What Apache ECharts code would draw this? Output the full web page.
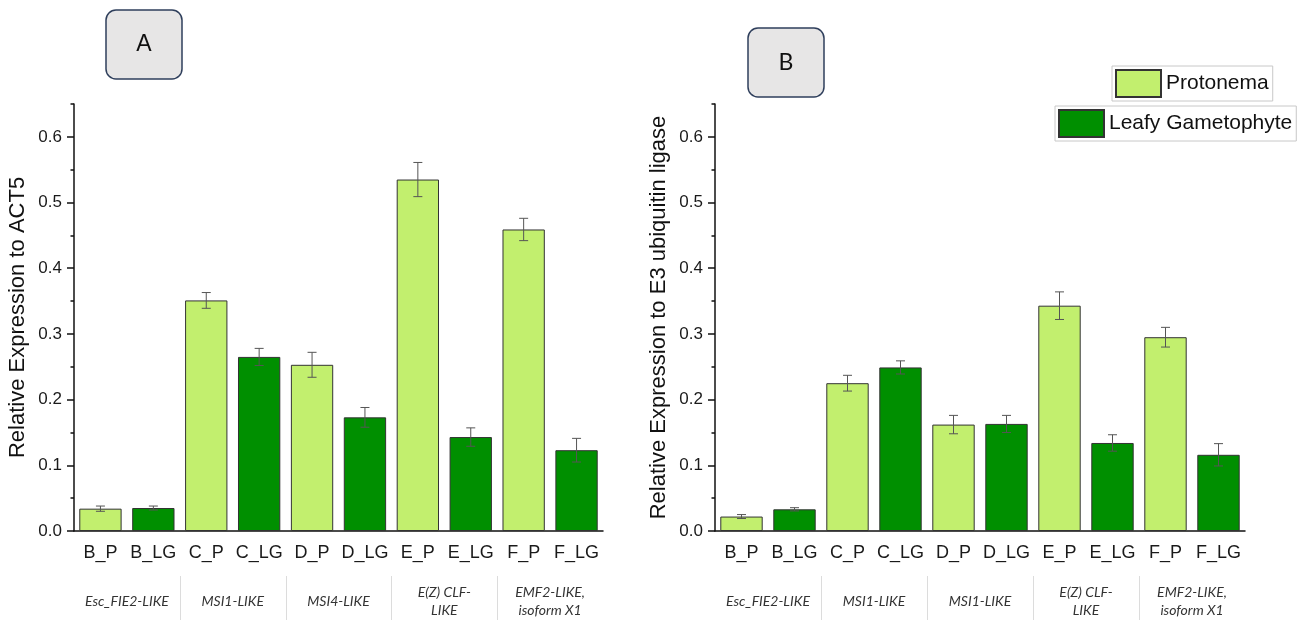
<!DOCTYPE html>
<html><head><meta charset="utf-8">
<script src="https://cdn.jsdelivr.net/npm/echarts@6/dist/echarts.min.js"></script>
<style>html,body{margin:0;padding:0;background:#fff}#c{width:1303px;height:624px}</style>
</head><body><div id="c"></div>
<script>
const categories = ['B_P','B_LG','C_P','C_LG','D_P','D_LG','E_P','E_LG','F_P','F_LG'];
const groupsA = ['Esc_FIE2-LIKE','MSI1-LIKE','MSI4-LIKE','E(Z) CLF-\nLIKE','EMF2-LIKE,\nisoform X1'];
const groupsB = ['Esc_FIE2-LIKE','MSI1-LIKE','MSI1-LIKE','E(Z) CLF-\nLIKE','EMF2-LIKE,\nisoform X1'];
const yTicks = [0, 0.1, 0.2, 0.3, 0.4, 0.5, 0.6];
const yMinorTicks = [0.05, 0.15, 0.25, 0.35, 0.45, 0.55, 0.65];
const yMax = 0.65;
const protonemaA = [0.034, 0.351, 0.253, 0.535, 0.459];
const protonemaErrA = [0.004, 0.012, 0.019, 0.026, 0.017];
const leafyA = [0.035, 0.265, 0.173, 0.143, 0.123];
const leafyErrA = [0.003, 0.013, 0.015, 0.014, 0.018];
const protonemaB = [0.022, 0.225, 0.162, 0.343, 0.295];
const protonemaErrB = [0.003, 0.012, 0.014, 0.021, 0.015];
const leafyB = [0.033, 0.249, 0.163, 0.134, 0.116];
const leafyErrB = [0.0025, 0.010, 0.013, 0.0125, 0.017];
const yNameA = 'Relative Expression to ACT5';
const yNameB = 'Relative Expression to E3 ubiquitin ligase';

const LIGHT = '#c2ef6e', DARK = '#008f00';
const FONT = "'Liberation Sans', Arial, sans-serif";

function spread(p, l) {
  const P = [], L = [];
  for (let i = 0; i < p.length; i++) { P.push(p[i], '-'); L.push('-', l[i]); }
  return [P, L];
}
function errData(p, pe, l, le) {
  const d = [];
  for (let i = 0; i < p.length; i++) {
    d.push([2 * i, p[i] - pe[i], p[i] + pe[i]]);
    d.push([2 * i + 1, l[i] - le[i], l[i] + le[i]]);
  }
  return d;
}
function renderErr(params, api) {
  const x = api.value(0);
  const t = api.coord([x, api.value(2)]);
  const b = api.coord([x, api.value(1)]);
  const hw = 4.5;
  const st = { stroke: '#555', lineWidth: 1 };
  return { type: 'group', children: [
    { type: 'line', shape: { x1: t[0], y1: t[1], x2: b[0], y2: b[1] }, style: st },
    { type: 'line', shape: { x1: t[0] - hw, y1: t[1], x2: t[0] + hw, y2: t[1] }, style: st },
    { type: 'line', shape: { x1: b[0] - hw, y1: b[1], x2: b[0] + hw, y2: b[1] }, style: st }
  ]};
}

function xAxesFor(g, groups) {
  return [
    { type: 'category', gridIndex: g, position: 'bottom', data: categories,
      axisLine: { onZero: false, lineStyle: { color: '#111', width: 1.5 } },
      axisTick: { alignWithLabel: true, length: 8, interval: 0, lineStyle: { color: '#111', width: 1.5 } },
      axisLabel: { interval: 0, margin: 13, fontSize: 18, color: '#1a1a1a', fontFamily: FONT } },
    { type: 'category', gridIndex: g, position: 'bottom', data: categories,
      axisLine: { show: false, onZero: false },
      axisTick: { length: 4, interval: 0, lineStyle: { color: '#111', width: 1.5 } },
      axisLabel: { show: false } },
    { type: 'category', gridIndex: g, position: 'bottom', data: groups,
      axisLine: { show: false, onZero: false }, axisTick: { show: false },
      axisLabel: { interval: 0, margin: 70, verticalAlign: 'middle', lineHeight: 18,
        fontSize: 14, fontStyle: 'italic', color: '#333', fontFamily: "Lato, 'Open Sans', sans-serif" } }
  ];
}
function yAxesFor(g, name) {
  return [
    { type: 'value', gridIndex: g, position: 'left', min: 0, max: yMax,
      name: name, nameLocation: 'middle', nameGap: 45,
      nameTextStyle: { fontSize: 22, color: '#111', fontFamily: FONT },
      splitLine: { show: false },
      axisLine: { show: true, lineStyle: { color: '#111', width: 1.5 } },
      axisTick: { show: true, length: 7, customValues: yTicks, lineStyle: { color: '#111', width: 1.5 } },
      axisLabel: { customValues: yTicks, margin: 12, fontSize: 17, color: '#1a1a1a', fontFamily: FONT,
        formatter: v => v.toFixed(1) } },
    { type: 'value', gridIndex: g, position: 'left', min: 0, max: yMax,
      splitLine: { show: false }, axisLine: { show: false },
      axisTick: { show: true, length: 3.5, customValues: yMinorTicks, lineStyle: { color: '#111', width: 1.5 } },
      axisLabel: { show: false } }
  ];
}

const [pA, lA] = spread(protonemaA, leafyA);
const [pB, lB] = spread(protonemaB, leafyB);
const barStyle = c => ({ color: c, borderColor: '#333', borderWidth: 1 });

function barSeries(xi, yi, P, L, E) {
  return [
    { name: 'Protonema', type: 'bar', xAxisIndex: xi, yAxisIndex: yi, data: P,
      barGap: '-100%', barCategoryGap: '20%', itemStyle: barStyle(LIGHT) },
    { name: 'Leafy Gametophyte', type: 'bar', xAxisIndex: xi, yAxisIndex: yi, data: L,
      barGap: '-100%', barCategoryGap: '20%', itemStyle: barStyle(DARK) },
    { type: 'custom', xAxisIndex: xi, yAxisIndex: yi, data: E, renderItem: renderErr,
      encode: { x: 0, y: [1, 2] }, z: 5, silent: true }
  ];
}

const legendText = { fontSize: 21, color: '#111', fontFamily: FONT };
const chart = echarts.init(document.getElementById('c'), null, { renderer: 'canvas' });
chart.setOption({
  animation: false,
  backgroundColor: '#fff',
  grid: [
    { left: 74, top: 104, width: 529, height: 427 },
    { left: 715, top: 104, width: 530, height: 427 }
  ],
  xAxis: [...xAxesFor(0, groupsA), ...xAxesFor(1, groupsB)],
  yAxis: [...yAxesFor(0, yNameA), ...yAxesFor(1, yNameB)],
  legend: [
    { data: ['Protonema'], left: 1112, top: 66, orient: 'horizontal', itemWidth: 45, itemHeight: 27,
      padding: [3, 4, 3, 3], borderColor: '#c8c8c8', borderWidth: 1, textStyle: legendText,
      icon: 'rect', selectedMode: false },
    { data: ['Leafy Gametophyte'], left: 1055, top: 106, orient: 'horizontal', itemWidth: 45, itemHeight: 27,
      padding: [3, 4, 3, 3], borderColor: '#c8c8c8', borderWidth: 1, textStyle: legendText,
      icon: 'rect', selectedMode: false }
  ],
  series: [
    ...barSeries(0, 0, pA, lA, errData(protonemaA, protonemaErrA, leafyA, leafyErrA)),
    ...barSeries(3, 2, pB, lB, errData(protonemaB, protonemaErrB, leafyB, leafyErrB))
  ]
});

function separators(xi) {
  const out = [];
  for (let k = 1; k < 5; k++) {
    const a = chart.convertToPixel({ xAxisIndex: xi }, 2 * k - 1);
    const b = chart.convertToPixel({ xAxisIndex: xi }, 2 * k);
    const x = Math.round((a + b) / 2) + 0.5;
    out.push({ type: 'line', shape: { x1: x, y1: 576, x2: x, y2: 620 }, style: { stroke: '#dcdcdc', lineWidth: 1 }, silent: true });
  }
  return out;
}
function panelBox(x, y, w, h, label, font) {
  return { type: 'group', children: [
    { type: 'rect', shape: { x: x, y: y, width: w, height: h, r: 10 },
      style: { fill: '#e7e6e6', stroke: '#2f3f5c', lineWidth: 1.5 } },
    { type: 'text', x: x + w / 2, y: y + h / 2,
      style: { text: label, fontSize: 23, fontFamily: font, fill: '#111', align: 'center', verticalAlign: 'middle' } }
  ]};
}
chart.setOption({
  graphic: [
    ...separators(0), ...separators(3),
    panelBox(106, 10, 76, 69, 'A', FONT),
    panelBox(748, 28, 76, 69, 'B', "Lato, 'Open Sans', sans-serif")
  ]
});
</script>
</body></html>
